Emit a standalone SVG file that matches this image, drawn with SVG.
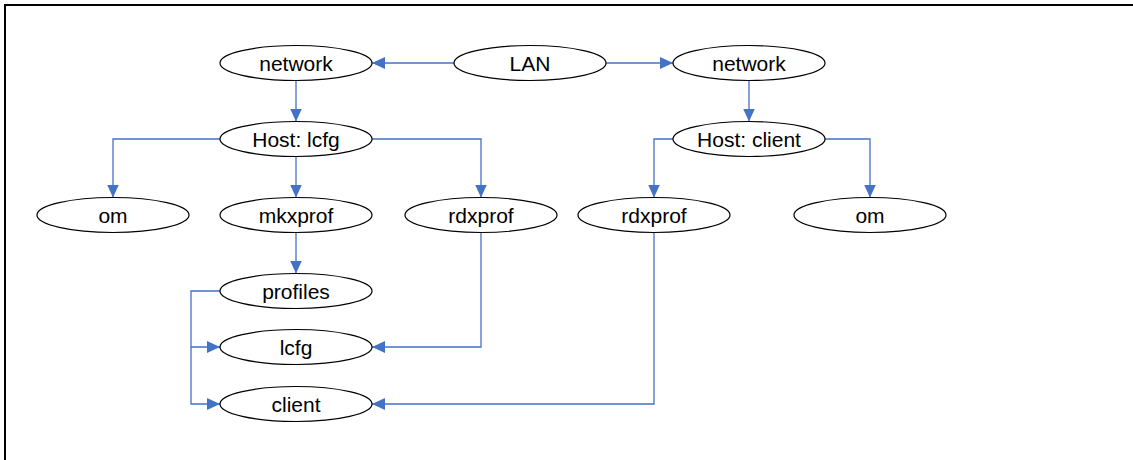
<svg xmlns="http://www.w3.org/2000/svg" width="1133" height="460" viewBox="0 0 1133 460">
<style>
.n ellipse{fill:#fff;stroke:#000;stroke-width:1.2}
.n text{font-family:"Liberation Sans",Arial,sans-serif;font-size:21px;text-anchor:middle;fill:#000}
.c path{fill:none;stroke:#4472C4;stroke-width:1.3;marker-end:url(#ah)}
.frame{stroke:#000;stroke-width:2;fill:none}
</style>
<defs>
<marker id="ah" viewBox="0 0 13 12" refX="13" refY="6" markerWidth="13" markerHeight="12" markerUnits="userSpaceOnUse" orient="auto">
<path d="M0,0 L13,6 L0,12 Z" fill="#4472C4"/>
</marker>
</defs>
<path class="frame" d="M5,460 V5 H1133"/>
<g class="c" id="connectors">
<path d="M454,63 H372"/>
<path d="M606,63 H673"/>
<path d="M296,80.5 V121.5"/>
<path d="M749,80.5 V121.5"/>
<path d="M220,139 H113 V197.5"/>
<path d="M296,156.5 V197.5"/>
<path d="M372,139 H481 V197.5"/>
<path d="M673,139 H654 V197.5"/>
<path d="M825,139 H870 V197.5"/>
<path d="M296,232.5 V273.5"/>
<path d="M481,232.5 V347 H372"/>
<path d="M654,232.5 V404 H372"/>
<path d="M220,291 H191 V347 H220"/>
<path d="M191,347 V404 H220"/>
</g>
<g class="n" id="lan"><ellipse cx="530" cy="63" rx="76" ry="17.5"/><text x="530" y="70.5">LAN</text></g>
<g class="n" id="network1"><ellipse cx="296" cy="63" rx="76" ry="17.5"/><text x="296" y="70.5">network</text></g>
<g class="n" id="network2"><ellipse cx="749" cy="63" rx="76" ry="17.5"/><text x="749" y="70.5">network</text></g>
<g class="n" id="host-lcfg"><ellipse cx="296" cy="139" rx="76" ry="17.5"/><text x="296" y="146.5">Host: lcfg</text></g>
<g class="n" id="host-client"><ellipse cx="749" cy="139" rx="76" ry="17.5"/><text x="749" y="146.5">Host: client</text></g>
<g class="n" id="om1"><ellipse cx="113" cy="215" rx="76" ry="17.5"/><text x="113" y="222.5">om</text></g>
<g class="n" id="mkxprof"><ellipse cx="296" cy="215" rx="76" ry="17.5"/><text x="296" y="222.5">mkxprof</text></g>
<g class="n" id="rdxprof1"><ellipse cx="481" cy="215" rx="76" ry="17.5"/><text x="481" y="222.5">rdxprof</text></g>
<g class="n" id="rdxprof2"><ellipse cx="654" cy="215" rx="76" ry="17.5"/><text x="654" y="222.5">rdxprof</text></g>
<g class="n" id="om2"><ellipse cx="870" cy="215" rx="76" ry="17.5"/><text x="870" y="222.5">om</text></g>
<g class="n" id="profiles"><ellipse cx="296" cy="291" rx="76" ry="17.5"/><text x="296" y="298.5">profiles</text></g>
<g class="n" id="lcfg"><ellipse cx="296" cy="347" rx="76" ry="17.5"/><text x="296" y="354.5">lcfg</text></g>
<g class="n" id="client"><ellipse cx="296" cy="404" rx="76" ry="17.5"/><text x="296" y="411.5">client</text></g>
</svg>
